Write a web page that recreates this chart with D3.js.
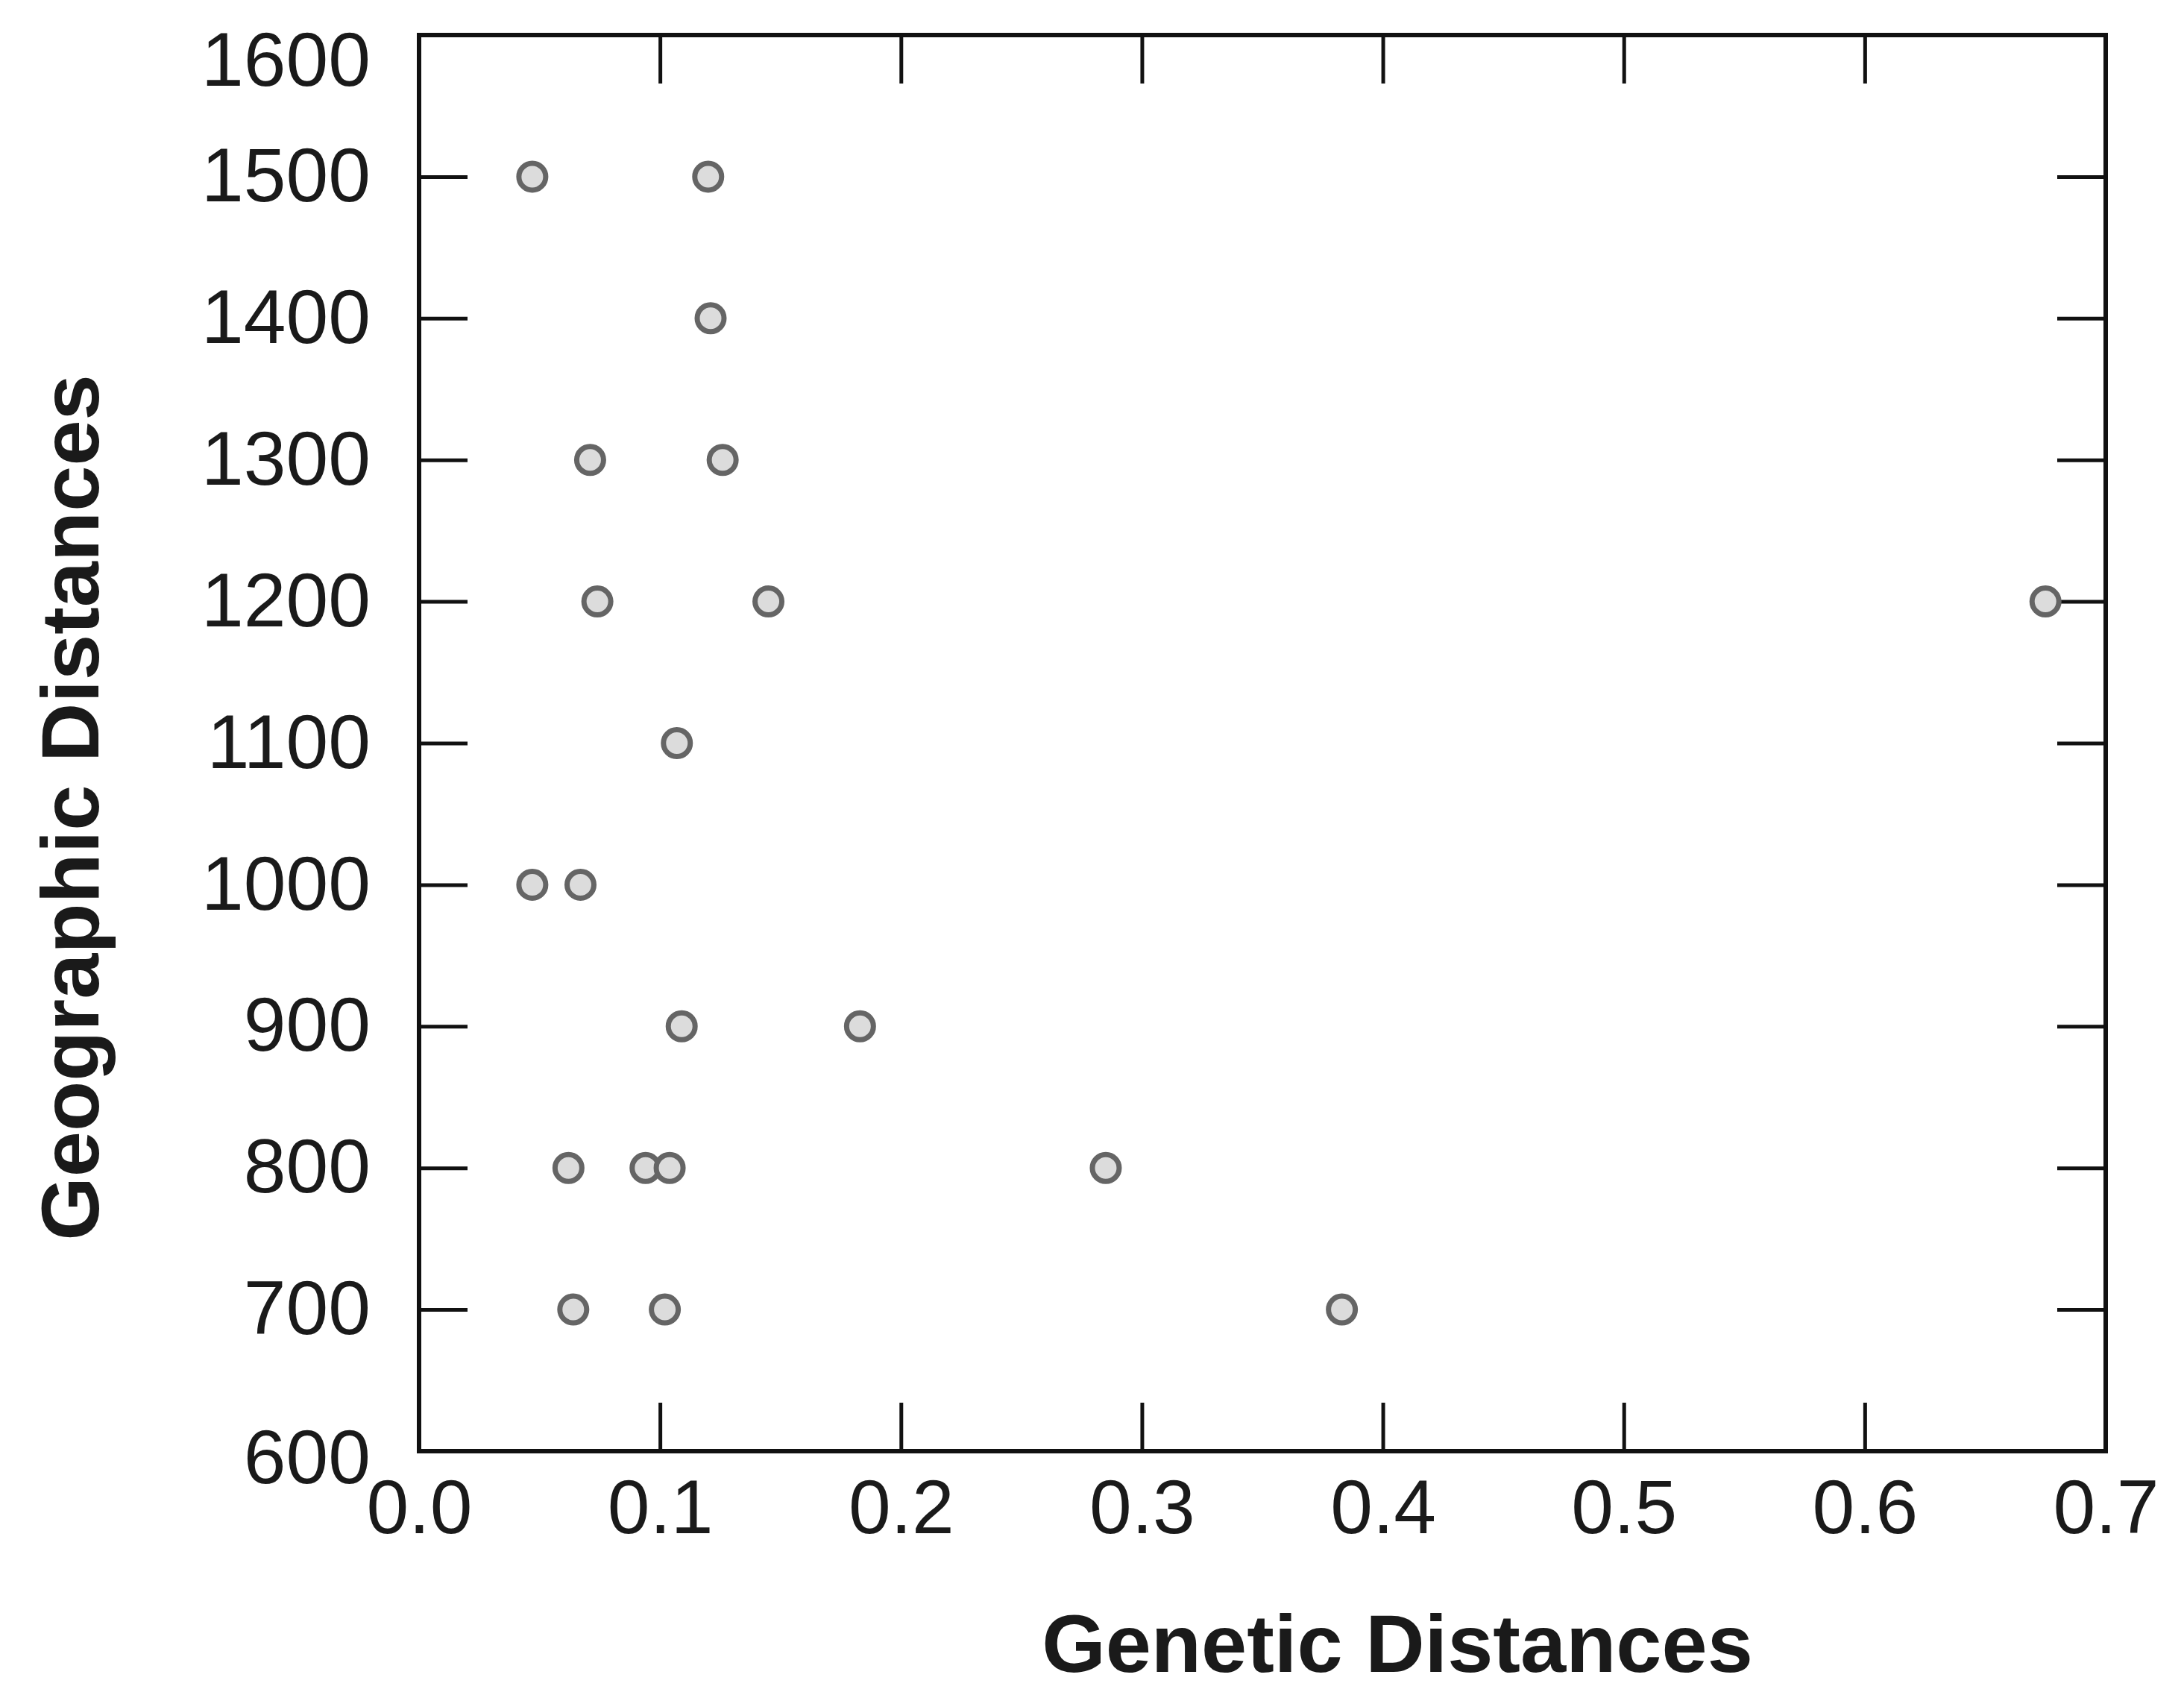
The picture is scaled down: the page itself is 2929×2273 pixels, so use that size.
<!DOCTYPE html>
<head>
<meta charset="utf-8">
<title>Genetic vs Geographic Distances</title>
<style>
body { margin: 0; background: #fff; }
.frame { fill: none; stroke: #111; stroke-width: 6px; }
.axis path.domain { display: none; }
.axis line { stroke: #111; stroke-width: 5px; }
.axis text {
  font-family: "Liberation Sans", Arial, sans-serif;
  font-size: 102px;
  fill: #1a1a1a;
}
.title {
  font-family: "Liberation Sans", Arial, sans-serif;
  font-size: 110px;
  font-weight: bold;
  fill: #1a1a1a;
}
circle.pt {
  fill: #dcdcdc;
  stroke: #656565;
  stroke-width: 7px;
}
</style>
</head>
<body>
<script src="https://cdnjs.cloudflare.com/ajax/libs/d3/7.8.5/d3.min.js"></script>
<script>
// values
var geneticDist = [0.047, 0.120, 0.121, 0.071, 0.126, 0.074, 0.145, 0.675,
                   0.107, 0.047, 0.067, 0.109, 0.183, 0.062, 0.094, 0.104,
                   0.285, 0.064, 0.102, 0.383];
var geoDist = [1500, 1500, 1400, 1300, 1300, 1200, 1200, 1200,
               1100, 1000, 1000, 900, 900, 800, 800, 800,
               800, 700, 700, 700];
var xTicks = [0.0, 0.1, 0.2, 0.3, 0.4, 0.5, 0.6, 0.7];
var yTicks = [600, 700, 800, 900, 1000, 1100, 1200, 1300, 1400, 1500, 1600];

var width = 2929,
    height = 2273;
// plot frame (window.top is reserved, so use other names)
var plotL = 562, plotR = 2824, plotT = 47, plotB = 1946;

var svg = d3.select("body").append("svg")
  .attr("width", width)
  .attr("height", height);

var x = d3.scaleLinear().domain([0, 0.7]).range([plotL, plotR]);
var y = d3.scaleLinear().domain([600, 1600]).range([plotB, plotT]);

var tickLen = 65;

// bottom axis with labels, ticks point inward
svg.append("g")
  .attr("class", "axis")
  .attr("transform", "translate(0," + plotB + ")")
  .call(d3.axisBottom(x).tickValues(xTicks).tickSize(-tickLen).tickPadding(38)
    .tickFormat(d3.format(".1f")));

// top axis, ticks only
svg.append("g")
  .attr("class", "axis")
  .attr("transform", "translate(0," + plotT + ")")
  .call(d3.axisTop(x).tickValues(xTicks).tickSize(-tickLen).tickFormat(""));

// left axis with labels
var yAxisG = svg.append("g")
  .attr("class", "axis")
  .attr("transform", "translate(" + plotL + ",0)")
  .call(d3.axisLeft(y).tickValues(yTicks).tickSize(-tickLen).tickPadding(65)
    .tickFormat(d3.format("d")));

// in the original the end labels sit a little low
yAxisG.selectAll(".tick text")
  .filter(function(d) { return d === 1600; })
  .attr("dy", "0.66em");
yAxisG.selectAll(".tick text")
  .filter(function(d) { return d === 600; })
  .attr("dy", "0.42em");

// right axis, ticks only
svg.append("g")
  .attr("class", "axis")
  .attr("transform", "translate(" + plotR + ",0)")
  .call(d3.axisRight(y).tickValues(yTicks).tickSize(-tickLen).tickFormat(""));

svg.append("rect")
  .attr("class", "frame")
  .attr("x", plotL)
  .attr("y", plotT)
  .attr("width", plotR - plotL)
  .attr("height", plotB - plotT);

// points
svg.append("g")
  .selectAll("circle")
  .data(d3.range(geneticDist.length))
  .enter().append("circle")
  .attr("class", "pt")
  .attr("cx", function(i) { return x(geneticDist[i]); })
  .attr("cy", function(i) { return y(geoDist[i]); })
  .attr("r", 18);

// axis titles
svg.append("text")
  .attr("class", "title")
  .attr("x", 1874)
  .attr("y", 2242)
  .attr("text-anchor", "middle")
  .text("Genetic Distances");

svg.append("text")
  .attr("class", "title")
  .attr("transform", "translate(132,1083) rotate(-90)")
  .attr("text-anchor", "middle")
  .text("Geographic Distances");
</script>
</body>
</html>
